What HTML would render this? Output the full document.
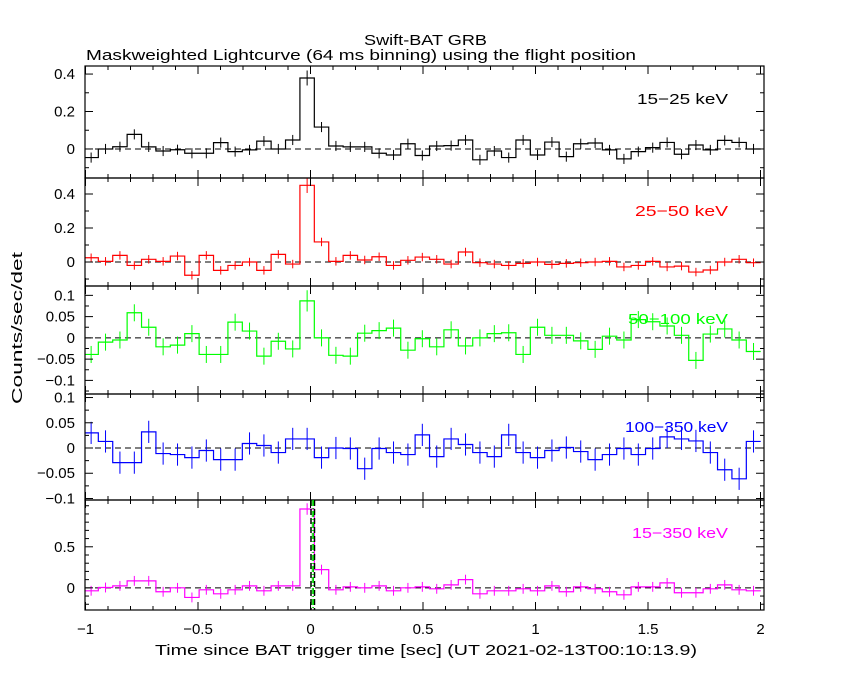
<!DOCTYPE html>
<html><head><meta charset="utf-8">
<style>
html,body{margin:0;padding:0;background:#fff;}
svg text{font-family:"Liberation Sans",sans-serif;}
</style></head>
<body>
<svg id="chart" width="850" height="680" viewBox="0 0 850 680" xmlns="http://www.w3.org/2000/svg">
<text x="364" y="45" font-size="15" textLength="123" lengthAdjust="spacingAndGlyphs">Swift-BAT GRB</text>
<text x="86" y="60" font-size="15" textLength="550" lengthAdjust="spacingAndGlyphs">Maskweighted Lightcurve (64 ms binning) using the flight position</text>
<text transform="translate(22,328) rotate(-90)" font-size="15" text-anchor="middle" textLength="152" lengthAdjust="spacingAndGlyphs">Counts/sec/det</text>
<text x="155" y="655" font-size="15" textLength="542" lengthAdjust="spacingAndGlyphs">Time since BAT trigger time [sec] (UT 2021-02-13T00:10:13.9)</text>
<g id="plots"></g>
</svg>
<script>
const binStart = -1.007;
const binWidth = 0.064;
const band1 = [-0.046,0.0,0.012,0.078,0.011,-0.011,-0.004,-0.023,-0.023,0.034,-0.014,-0.005,0.042,0,0.048,0.379,0.117,0.016,0.011,0.011,-0.023,-0.032,0.028,-0.035,0.016,0.018,0.048,-0.058,-0.011,-0.046,0.048,-0.032,0.037,-0.041,0.028,0.032,-0.005,-0.053,-0.014,0.007,0.035,-0.028,0.021,-0.005,0.046,0.035,0];
const band2 = [0.025,0.004,0.039,-0.02,0.016,0.004,0.035,-0.078,0.039,-0.049,-0.02,0,-0.049,0.045,-0.012,0.451,0.118,0.004,0.039,0.012,0.031,-0.02,0.01,0.029,0.016,-0.012,0.059,-0.004,-0.012,-0.02,-0.008,0,-0.014,-0.008,-0.004,0,0.004,-0.029,-0.02,0.004,-0.029,-0.024,-0.059,-0.047,0,0.016,-0.004];
const band3 = [-0.039,-0.010,-0.005,0.059,0.025,-0.021,-0.017,0.010,-0.039,-0.039,0.037,0.016,-0.043,-0.008,-0.026,0.087,0,-0.041,-0.043,0.011,0.017,0.023,-0.029,-0.002,-0.021,0.019,-0.019,0,0.010,0.012,-0.039,0.025,0.006,0.006,-0.007,-0.027,0.004,-0.005,0.043,0.038,0.028,0.006,-0.053,0.009,0.021,-0.005,-0.032];
const band4 = [0.030,0.013,-0.029,-0.029,0.032,-0.011,-0.013,-0.019,-0.005,-0.023,-0.023,0.009,0.005,-0.009,0.018,0.018,-0.019,0,-0.001,-0.041,-0.001,-0.009,-0.013,0.026,-0.017,0.018,0.007,-0.009,-0.017,0.026,-0.009,-0.019,-0.005,0.001,-0.007,-0.023,-0.013,-0.001,-0.013,-0.001,0.022,0.018,0.014,-0.009,-0.043,-0.061,0.013];
const band5 = [-0.036,0.004,0.024,0.085,0.085,-0.048,0,-0.117,-0.024,-0.073,-0.024,0.024,-0.036,0.024,0.024,0.96,0.222,-0.024,0.012,0,0.024,-0.036,0,0.012,-0.012,0.036,0.1,-0.073,-0.036,-0.036,-0.012,-0.036,0.024,-0.048,0.012,-0.012,-0.048,-0.085,0.012,0.012,0.06,-0.06,-0.06,-0.012,0.036,-0.024,-0.036];
const errs = [0.027,0.025,0.02,0.022,0.06];
const peakErrs = [0.04,0.045,0.025,0.022,0.07];
const bandLabels = ["15\u221225 keV","25\u221250 keV","50\u2212100 keV","100\u2212350 keV","15\u2212350 keV"];
const yTickLabels = [["0","0.2","0.4"],["0","0.2","0.4"],["\u22120.1","\u22120.05","0","0.05","0.1"],["\u22120.1","\u22120.05","0","0.05","0.1"],["0","0.5"]];
const yTickValues = [[0,0.2,0.4],[0,0.2,0.4],[-0.1,-0.05,0,0.05,0.1],[-0.1,-0.05,0,0.05,0.1],[0,0.5]];
const xTickLabels = ["\u22121","\u22120.5","0","0.5","1","1.5","2"];
const xTickValues = [-1,-0.5,0,0.5,1,1.5,2];

const bands=[band1,band2,band3,band4,band5];
const colors=["#000","#f00","#0f0","#00f","#f0f"];
const labelWidths=[91,93,100,103,96];
const panels=[{top:66,bot:178,ymin:-0.155,ymax:0.443,minor:0.1},
 {top:178,bot:286,ymin:-0.141,ymax:0.494,minor:0.1},
 {top:286,bot:394,ymin:-0.132,ymax:0.122,minor:0.025},
 {top:394,bot:500,ymin:-0.103,ymax:0.107,minor:0.025},
 {top:500,bot:610,ymin:-0.27,ymax:1.07,minor:0.1}];
const L=85,R=764;
const xs=t=>310.5+225*t;
const NS="http://www.w3.org/2000/svg";
const g=document.getElementById('plots');
function mk(tag,attrs,parent){const e=document.createElementNS(NS,tag);for(const k in attrs)e.setAttribute(k,attrs[k]);(parent||g).appendChild(e);return e;}
panels.forEach((p,pi)=>{
  const ys=v=>p.bot-(v-p.ymin)/(p.ymax-p.ymin)*(p.bot-p.top);
  const grp=mk('g',{});
  
  
  const z=mk('line',{x1:L,x2:R,y1:ys(0),y2:ys(0),stroke:'#000','stroke-dasharray':'6,4','stroke-width':1},grp);
  
  
  const data=bands[pi];let d='';
  data.forEach((v,i)=>{let x0=Math.max(L,xs(binStart+i*binWidth)),x1=Math.min(R,xs(binStart+(i+1)*binWidth));const y=ys(v);d+=(i===0?'M':'L')+x0+','+y+'L'+x1+','+y;});
  const path=mk('path',{d:d,fill:'none',stroke:colors[pi],'stroke-width':1.2},grp);
  
  
  data.forEach((v,i)=>{const xc=xs(binStart+(i+0.5)*binWidth);if(xc<L||xc>R)return;
    const e=(i===15)?peakErrs[pi]:errs[pi];
    const eb=mk('line',{x1:xc,x2:xc,y1:Math.max(p.top,ys(v+e)),y2:Math.min(p.bot,ys(v-e)),stroke:colors[pi],'stroke-width':1},grp);
    
    });
  const fr=mk('rect',{x:L,y:p.top,width:R-L,height:p.bot-p.top,fill:'none',stroke:'#000','stroke-width':1.2},grp);
  
  
  for(let k=0;k<=30;k++){const t=-1+k*0.1;const x=xs(t);const len=(k%5===0)?8:4;
    mk('line',{x1:x,x2:x,y1:p.bot,y2:p.bot-len,stroke:'#000'},grp);
    mk('line',{x1:x,x2:x,y1:p.top,y2:p.top+len,stroke:'#000'},grp);}
  const st=p.minor;for(let v=Math.ceil(p.ymin/st)*st;v<=p.ymax+1e-9;v+=st){const y=ys(v);
    const major=yTickValues[pi].some(m=>Math.abs(m-v)<1e-6);const len=major?8:4;
    mk('line',{x1:L,x2:L+len,y1:y,y2:y,stroke:'#000'},grp);
    mk('line',{x1:R,x2:R-len,y1:y,y2:y,stroke:'#000'},grp);}
  yTickValues[pi].forEach((v,j)=>{const tx=mk('text',{x:L-10,y:ys(v)+5,'font-size':15,'text-anchor':'end'},grp);tx.textContent=yTickLabels[pi][j];
    
    });
  const lab=mk('text',{x:728-labelWidths[pi],y:p.top+38,'font-size':15,fill:colors[pi],textLength:labelWidths[pi],lengthAdjust:'spacingAndGlyphs'},grp);
  lab.textContent=bandLabels[pi];
  
  
  if(pi===4){
    [311,314.5].forEach(x=>{const l=mk('line',{x1:x,x2:x,y1:p.top,y2:p.bot,stroke:'#000','stroke-dasharray':'6,3','stroke-width':1.5},grp);
      
      });
    [312.3,313.5].forEach(x=>{const l=mk('line',{x1:x,x2:x,y1:p.top,y2:p.bot,stroke:'#0c0','stroke-dasharray':'6,2,1,2','stroke-width':1},grp);
      
      });
  }
});
xTickValues.forEach((t,j)=>{const tx=mk('text',{x:xs(t),y:634,'font-size':15,'text-anchor':'middle'});tx.textContent=xTickLabels[j];
  
  });
</script>
</body></html>
